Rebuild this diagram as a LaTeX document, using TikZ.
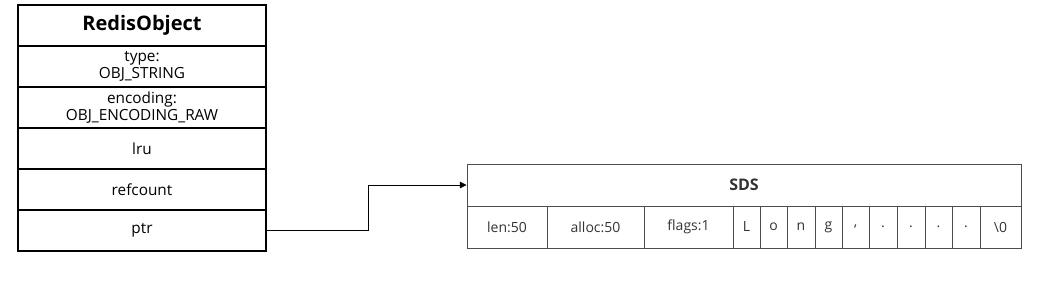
\documentclass[tikz,border=0pt]{standalone}
\usepackage{fontspec}
\setmainfont{Open Sans}
\usetikzlibrary{arrows.meta, positioning}
\definecolor{SDS_Gray}{HTML}{4D4D4D}
\definecolor{SDS_Text}{HTML}{333333}

\tikzset{
    objrow/.style={draw=black, line width=1.5pt, minimum width=186pt, minimum height=30.75pt,
        inner sep=0pt, align=center, font=\fontsize{11.5}{13}\selectfont},
    objhead/.style={objrow, font=\fontsize{15}{17}\selectfont\bfseries},
    sdshead/.style={draw=SDS_Gray, line width=0.75pt, minimum width=415.5pt, minimum height=31.5pt,
        inner sep=0pt, text=SDS_Text, font=\fontsize{12}{14}\selectfont\bfseries},
    sdscell/.style={draw=SDS_Gray, line width=0.75pt, minimum height=31.5pt,
        inner sep=0pt, text=SDS_Text, font=\fontsize{10.5}{12}\selectfont},
}

\begin{document}
\begin{tikzpicture}[x=0.75pt, y=-0.75pt]
    \useasboundingbox (0,0) rectangle (1063,285);

    % ===== RedisObject =====
    \node[objhead] (head) at (142,25.5) {RedisObject};
    \node[objrow] (type) at (142,66.5) {type:\\OBJ\_STRING};
    \node[objrow] (enc) at (142,107.5) {encoding:\\OBJ\_ENCODING\_RAW};
    \node[objrow] (lru) at (142,148.5) {lru};
    \node[objrow] (refcount) at (142,189.5) {refcount};
    \node[objrow] (ptr) at (142,230.5) {ptr};

    % ===== SDS =====
    \node[sdshead] (sds) at (744,185) {SDS};
    \foreach \l/\r/\t [count=\i] in {467/547/len:50, 547/644/alloc:50, 644/733/flags:1,
            733/760/L, 760/787/o, 787/815/n, 815/842/g, 842/869/{,}, 869/897/., 897/925/.,
            925/952/., 952/980/., 980/1021/\textbackslash 0}
        \node[sdscell, minimum width={(\r-\l)*0.75pt}] (c\i) at ({(\l+\r)/2},227) {\t};

    % ptr -> SDS
    \draw[-{Triangle[length=5pt, width=5pt]}, line width=0.6pt] (ptr.east) -- ++(101,0) |- (sds.west);
\end{tikzpicture}
\end{document}
